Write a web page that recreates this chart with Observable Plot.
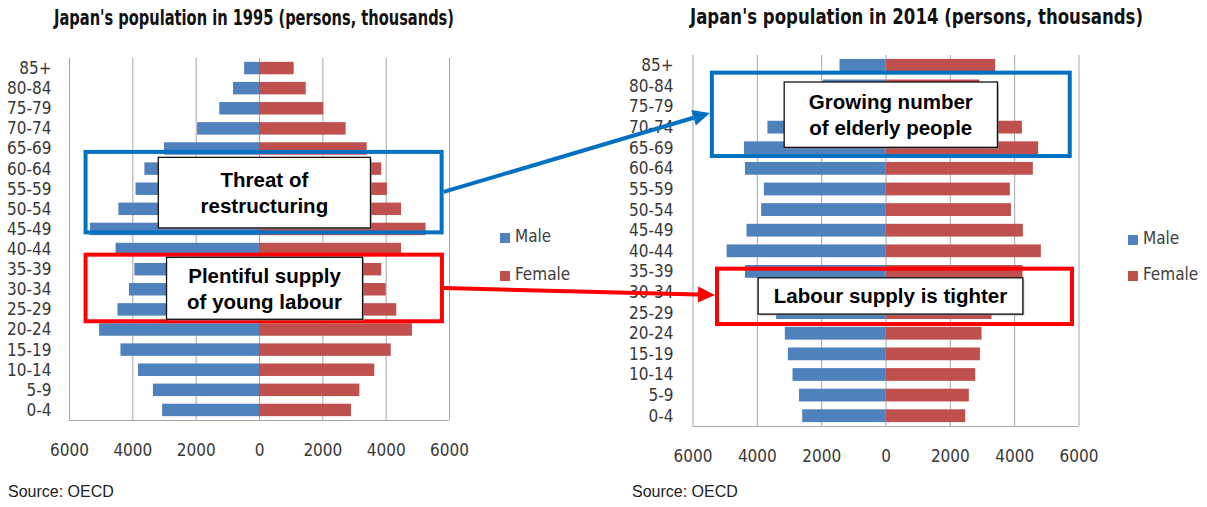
<!DOCTYPE html>
<html>
<head>
<meta charset="utf-8">
<script src="https://cdn.jsdelivr.net/npm/d3@7"></script>
<script src="https://cdn.jsdelivr.net/npm/@observablehq/plot@0.6"></script>
<style>
  body { margin: 0; background: #fff; }
  #page { position: relative; width: 1207px; height: 507px; overflow: hidden; background: #fff; }
  .title { position: absolute; top: 4px; font: bold 22px "Liberation Sans Narrow", "DejaVu Sans Condensed", "DejaVu Sans", sans-serif; font-stretch: condensed; color: #111; white-space: nowrap; line-height: 28px; transform-origin: 0 50%; }
  .legend { position: absolute; font: 17px "DejaVu Sans Condensed", "DejaVu Sans", sans-serif; font-stretch: condensed; color: #404040; }
  .legend .item { position: absolute; white-space: nowrap; line-height: 20px; }
  .legend .sw { display: inline-block; width: 10px; height: 10px; margin-right: 5px; vertical-align: -1px; }
  .source { position: absolute; font: 16px "Liberation Sans", Arial, sans-serif; color: #222; white-space: nowrap; }
  #overlay { position: absolute; left: 0; top: 0; pointer-events: none; }
</style>
</head>
<body>
<div id="page"></div>
<script>
// Age groups, oldest at the top
const ageGroups = ["85+", "80-84", "75-79", "70-74", "65-69", "60-64", "55-59", "50-54", "45-49",
                   "40-44", "35-39", "30-34", "25-29", "20-24", "15-19", "10-14", "5-9", "0-4"];

// Population by age group, thousands of persons
const male1995   = [470, 820, 1255, 1955, 3000, 3620, 3900, 4440, 5340, 4530, 3935, 4105, 4470, 5050, 4375, 3820, 3350, 3060];
const female1995 = [1095, 1475, 2030, 2735, 3400, 3860, 4040, 4485, 5260, 4485, 3860, 4000, 4335, 4830, 4160, 3640, 3170, 2905];
const male2014   = [1430, 1950, 2650, 3670, 4400, 4370, 3780, 3865, 4320, 4940, 4370, 3900, 3400, 3130, 3035, 2890, 2690, 2590];
const female2014 = [3410, 2920, 3500, 4240, 4745, 4580, 3865, 3900, 4270, 4830, 4260, 3850, 3295, 2985, 2935, 2790, 2590, 2480];

const xTicks = [-6000, -4000, -2000, 0, 2000, 4000, 6000];
const sexes = ["Male", "Female"];
const titles = ["Japan's population in 1995 (persons, thousands)", "Japan's population in 2014 (persons, thousands)"];
const sourceNote = "Source: OECD";

// Call-out frames and their labels, in each chart's own units (x in thousands, r in rows from the top)
const frames = [
  {chart: 0, color: "#0070C0", x1: -5540, x2: 5830, r1: 4.57, r2: 8.77},
  {chart: 0, color: "#FF0000", x1: -5540, x2: 5840, r1: 9.68, r2: 13.19},
  {chart: 1, color: "#0070C0", x1: -5460, x2: 5790, r1: 0.76, r2: 5.00},
  {chart: 1, color: "#FF0000", x1: -5300, x2: 5860, r1: 10.27, r2: 13.15}
];
const notes = [
  {chart: 0, lines: ["Threat of", "restructuring"], x1: -3180, x2: 3520, r1: 4.94, r2: 8.45},
  {chart: 0, lines: ["Plentiful supply", "of young labour"], x1: -2920, x2: 3270, r1: 9.91, r2: 12.99},
  {chart: 1, lines: ["Growing number", "of elderly people"], x1: -3150, x2: 3480, r1: 1.31, r2: 4.48},
  {chart: 1, lines: ["Labour supply is tighter"], x1: -3960, x2: 4270, r1: 10.81, r2: 12.57}
];
const arrows = [
  {color: "#0070C0", from: {chart: 0, x: 5830, r: 6.66}, to: {chart: 1, x: -5460, r: 2.81}},
  {color: "#FF0000", from: {chart: 0, x: 5840, r: 11.44}, to: {chart: 1, x: -5300, r: 11.64}}
];

const maleColor = "#4F81BD";
const femaleColor = "#C0504D";
const gridColor = "#A6A6A6";
const axisFont = "'DejaVu Sans Condensed', 'DejaVu Sans', sans-serif";

const page = document.getElementById("page");

function pyramid(male, female, o) {
  const rows = ageGroups.flatMap((age, i) => [
    {age, sex: "Male", value: -male[i]},
    {age, sex: "Female", value: female[i]}
  ]);
  const chart = Plot.plot({
    width: o.width,
    height: o.height,
    marginLeft: o.marginLeft,
    marginRight: o.marginRight,
    marginTop: o.marginTop,
    marginBottom: o.marginBottom,
    style: {fontFamily: axisFont, fontSize: "17px", fontStretch: "condensed", color: "#383838", background: "transparent", overflow: "visible"},
    x: {domain: [-6000, 6000], ticks: xTicks, tickFormat: d => String(Math.abs(d)), tickSize: 0, tickPadding: o.xPad, label: null},
    y: {domain: ageGroups, paddingInner: 0.38, paddingOuter: 0.19, round: false, tickSize: 0, tickPadding: o.yPad, label: null},
    color: {domain: sexes, range: [maleColor, femaleColor]},
    marks: [
      Plot.gridX(xTicks, {stroke: gridColor, strokeOpacity: 1, strokeWidth: 1}),
      Plot.barX(rows, {x: "value", y: "age", fill: "sex"}),
      // horizontal baseline under the bars
      (index, scales, values, dim) => {
        const y = dim.height - dim.marginBottom + 0.5;
        return d3.create("svg:line")
          .attr("x1", dim.marginLeft).attr("x2", dim.width - dim.marginRight)
          .attr("y1", y).attr("y2", y)
          .attr("stroke", gridColor).attr("stroke-width", 1.2).node();
      }
    ]
  });
  chart.style.position = "absolute";
  chart.style.left = o.left + "px";
  chart.style.top = o.top + "px";
  chart.style.margin = "0";
  chart.style.maxWidth = "none";
  page.appendChild(chart);
  const xs = chart.scale("x");
  const ys = chart.scale("y");
  const r0 = ys.range[0];
  const step = (ys.range[1] - ys.range[0]) / ageGroups.length;
  return {
    px: v => o.left + xs.apply(v),
    py: r => o.top + r0 + r * step
  };
}

const charts = [
  pyramid(male1995, female1995, {left: 0, top: 0, width: 603, height: 470, marginLeft: 69, marginRight: 154, marginTop: 58, marginBottom: 50, xPad: 23, yPad: 18}),
  pyramid(male2014, female2014, {left: 603, top: 0, width: 604, height: 480, marginLeft: 89.5, marginRight: 128.5, marginTop: 55, marginBottom: 54, xPad: 23, yPad: 19.5})
];

// Titles, each squeezed horizontally to its column width
[{left: 54, width: 400, top: 4}, {left: 690, width: 453, top: 3}].forEach((pos, i) => {
  const t = document.createElement("div");
  t.className = "title";
  t.style.left = pos.left + "px";
  t.style.top = pos.top + "px";
  t.textContent = titles[i];
  page.appendChild(t);
  const w = t.getBoundingClientRect().width;
  if (w > 0) t.style.transform = `scaleX(${pos.width / w})`;
});

// Legends
[{left: 500, top: 226, gap: 38}, {left: 1128, top: 228, gap: 36}].forEach(pos => {
  const lg = document.createElement("div");
  lg.className = "legend";
  lg.style.left = pos.left + "px";
  lg.style.top = pos.top + "px";
  sexes.forEach((s, i) => {
    const it = document.createElement("div");
    it.className = "item";
    it.style.top = (i * pos.gap) + "px";
    it.innerHTML = `<span class="sw" style="background:${i ? femaleColor : maleColor}"></span>${s}`;
    lg.appendChild(it);
  });
  page.appendChild(lg);
});

// Source notes
[8, 632].forEach(x => {
  const s = document.createElement("div");
  s.className = "source";
  s.style.left = x + "px";
  s.style.top = "483px";
  s.textContent = sourceNote;
  page.appendChild(s);
});

// Overlay: call-out frames, arrows and labels
const svg = d3.select(page).append("svg")
  .attr("id", "overlay").attr("width", 1207).attr("height", 507);

arrows.forEach(a => {
  const x1 = charts[a.from.chart].px(a.from.x), y1 = charts[a.from.chart].py(a.from.r);
  const x2 = charts[a.to.chart].px(a.to.x), y2 = charts[a.to.chart].py(a.to.r);
  const ang = Math.atan2(y2 - y1, x2 - x1);
  const headLen = 17, headHalf = 8;
  const bx = x2 - headLen * Math.cos(ang), by = y2 - headLen * Math.sin(ang);
  svg.append("line")
    .attr("x1", x1).attr("y1", y1).attr("x2", bx).attr("y2", by)
    .attr("stroke", a.color).attr("stroke-width", 4);
  const nx = -Math.sin(ang), ny = Math.cos(ang);
  svg.append("polygon")
    .attr("points", [[x2, y2], [bx + nx * headHalf, by + ny * headHalf], [bx - nx * headHalf, by - ny * headHalf]].map(p => p.join(",")).join(" "))
    .attr("fill", a.color);
});

frames.forEach(f => {
  const c = charts[f.chart];
  const x1 = c.px(f.x1), x2 = c.px(f.x2), y1 = c.py(f.r1), y2 = c.py(f.r2);
  svg.append("rect")
    .attr("x", x1 + 2).attr("y", y1 + 2)
    .attr("width", x2 - x1 - 4).attr("height", y2 - y1 - 4)
    .attr("fill", "none").attr("stroke", f.color).attr("stroke-width", 4);
});

notes.forEach(n => {
  const c = charts[n.chart];
  const x1 = c.px(n.x1), x2 = c.px(n.x2), y1 = c.py(n.r1), y2 = c.py(n.r2);
  svg.append("rect")
    .attr("x", x1 + 1.5).attr("y", y1 + 1.5)
    .attr("width", x2 - x1).attr("height", y2 - y1)
    .attr("fill", "#8c8c8c").attr("opacity", 0.6);
  svg.append("rect")
    .attr("x", x1).attr("y", y1)
    .attr("width", x2 - x1).attr("height", y2 - y1)
    .attr("fill", "#fff").attr("stroke", "#111").attr("stroke-width", 1.3);
  const cx = (x1 + x2) / 2, cy = (y1 + y2) / 2;
  const lh = 26;
  n.lines.forEach((line, i) => {
    svg.append("text")
      .attr("x", cx)
      .attr("y", cy + (i - (n.lines.length - 1) / 2) * lh)
      .attr("dy", "0.36em")
      .attr("text-anchor", "middle")
      .attr("font-family", "'Liberation Sans', Arial, sans-serif")
      .attr("font-weight", "bold")
      .attr("font-size", 20.5)
      .attr("fill", "#000")
      .text(line);
  });
});
</script>
</body>
</html>
